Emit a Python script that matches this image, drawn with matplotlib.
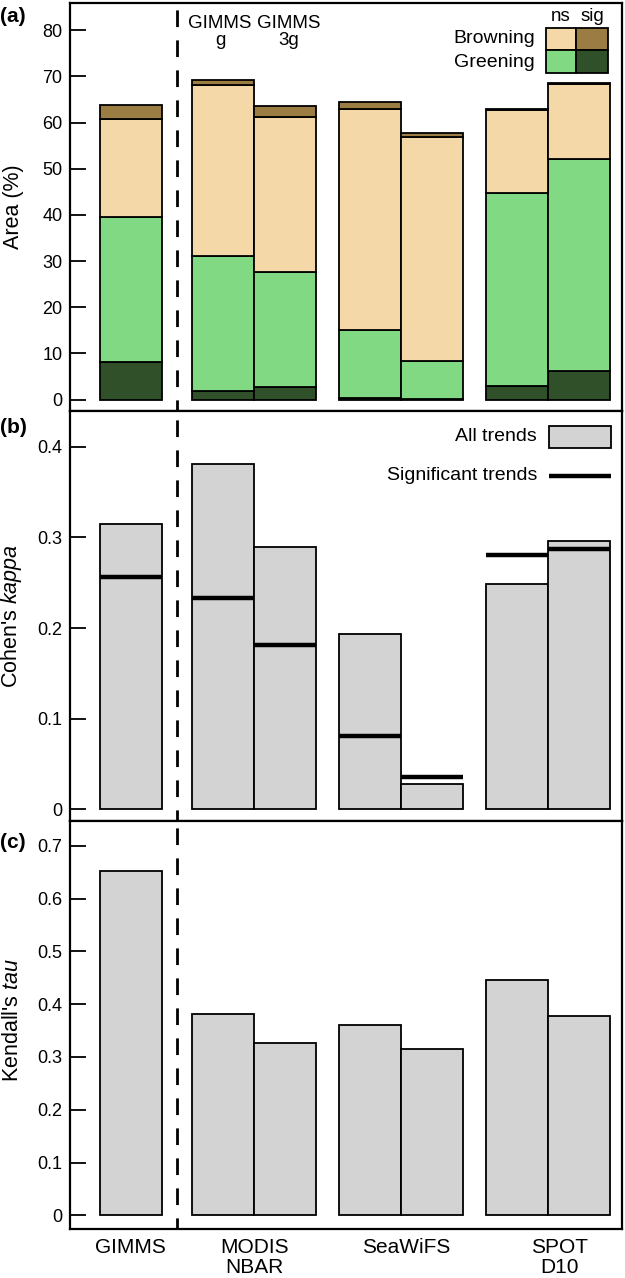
import numpy as np
import matplotlib
matplotlib.use("Agg")
import matplotlib.pyplot as plt
from matplotlib.patches import Rectangle

plt.rcParams['font.family'] = ['Liberation Sans', 'DejaVu Sans']
plt.rcParams['mathtext.fontset'] = 'custom'
plt.rcParams['mathtext.rm'] = 'Liberation Sans'
plt.rcParams['mathtext.it'] = 'Liberation Sans:italic'

# bar positions (bar width = 1), seven products
x_pos = [0.99, 2.47, 3.47, 4.835, 5.835, 7.21, 8.21]
x_lab_pos = [0.97, 2.97, 5.42, 7.90]
x_labels = ["GIMMS", "MODIS\nNBAR", "SeaWiFS", "SPOT\nD10"]

# (a) area with trends, %
sig_green = [8.2, 1.9, 2.75, 0.36, 0.2, 2.9, 6.2]
ns_green = [31.3, 29.3, 24.85, 14.64, 8.2, 41.9, 46.0]
ns_brown = [21.3, 36.9, 33.6, 47.9, 48.4, 17.9, 16.15]
sig_brown = [3.0, 1.1, 2.5, 1.5, 0.9, 0.15, 0.25]

# (b) Cohen's kappa
kappa_all = [0.3146, 0.3805, 0.2892, 0.1936, 0.0283, 0.2484, 0.2955]
kappa_sig = [0.2565, 0.2333, 0.1818, 0.0806, 0.0353, 0.2808, 0.2874]

# (c) Kendall's tau
tau = [0.653, 0.381, 0.327, 0.360, 0.316, 0.445, 0.377]

col_sig_green = "#30502a"
col_ns_green = "#82d983"
col_ns_brown = "#f5d8a8"
col_sig_brown = "#9b7d43"
col_gray = "#d3d3d3"

fig = plt.figure(figsize=(6.25, 12.78), dpi=100)
L, R = 70 / 625, 622 / 625
H = 1278
ax_a = fig.add_axes([L, 1 - 411 / H, R - L, 408 / H])
ax_b = fig.add_axes([L, 1 - 821 / H, R - L, 410 / H])
ax_c = fig.add_axes([L, 1 - 1229 / H, R - L, 408 / H])

ec = dict(edgecolor="black", linewidth=1.3)

# panel a: stacked bars
bottom = np.zeros(len(x_pos))
for vals, col in [(sig_green, col_sig_green), (ns_green, col_ns_green),
                  (ns_brown, col_ns_brown), (sig_brown, col_sig_brown)]:
    ax_a.bar(x_pos, vals, width=1.0, bottom=bottom, color=col, **ec)
    bottom += np.array(vals)

# panel b: kappa bars and significant-trend lines
ax_b.bar(x_pos, kappa_all, width=1.0, color=col_gray, **ec)
for xp, k in zip(x_pos, kappa_sig):
    ax_b.plot([xp - 0.5, xp + 0.5], [k, k], color="black", lw=3.2,
              solid_capstyle="butt")

# panel c: tau bars
ax_c.bar(x_pos, tau, width=1.0, color=col_gray, **ec)

ylims = [(-2.46, 85.9), (-0.0129, 0.4394), (-0.0258, 0.747)]
yticks = [np.arange(0, 81, 10), [0, 0.1, 0.2, 0.3, 0.4],
          [0, 0.1, 0.2, 0.3, 0.4, 0.5, 0.6, 0.7]]
ytlabels = [[str(v) for v in range(0, 81, 10)],
            ["0", "0.1", "0.2", "0.3", "0.4"],
            ["0", "0.1", "0.2", "0.3", "0.4", "0.5", "0.6", "0.7"]]
for ax, yl, yt, ytl in zip([ax_a, ax_b, ax_c], ylims, yticks, ytlabels):
    ax.set_xlim(0, 8.9)
    ax.set_ylim(*yl)
    ax.set_yticks(yt)
    ax.set_yticklabels(ytl)
    ax.set_xticks([])
    ax.tick_params(axis="y", direction="in", length=11.5, width=1.3,
                   labelsize=13, pad=5.5)
    for s in ax.spines.values():
        s.set_linewidth(1.6)
    ax.axvline(1.73, color="black", lw=2.0, linestyle=(2, (6.0, 4.8)))

# x labels under panel c
for xp, lab in zip(x_lab_pos, x_labels):
    ax_c.text(xp, -0.022, lab, ha="center", va="top", fontsize=15,
              linespacing=1.1, transform=ax_c.get_xaxis_transform())

# y labels
fig.text(13 / 625, 1 - 207 / H, "Area (%)", rotation=90, ha="center",
         va="center", fontsize=15.5)
fig.text(12 / 625, 1 - 616 / H, "Cohen's $\\mathit{kappa}$", rotation=90,
         ha="center", va="center", fontsize=15.5)
fig.text(13 / 625, 1 - 1020 / H, "Kendall's $\\mathit{tau}$", rotation=90,
         ha="center", va="center", fontsize=15.5)

# panel letters
for lab, yp in [("(a)", 17), ("(b)", 427), ("(c)", 843)]:
    fig.text(0 / 625, 1 - yp / H, lab, ha="left", va="center",
             fontsize=15, fontweight="bold")

# GIMMS annotations above MODIS bars
ax_a.text(x_pos[1] - 0.05, 0.971, "GIMMS\ng", ha="center", va="top",
          fontsize=13.5, linespacing=1.0, transform=ax_a.get_xaxis_transform())
ax_a.text(x_pos[2] + 0.05, 0.971, "GIMMS\n3g", ha="center", va="top",
          fontsize=13.5, linespacing=1.0, transform=ax_a.get_xaxis_transform())

# legend panel a
ta = ax_a.transAxes
cols = [(0.862, 0.917), (0.917, 0.975)]
rows = [(0.885, 0.939), (0.828, 0.885)]
cell_cols = [[col_ns_brown, col_sig_brown], [col_ns_green, col_sig_green]]
for ri, (y0, y1) in enumerate(rows):
    for ci, (x0, x1) in enumerate(cols):
        ax_a.add_patch(Rectangle((x0, y0), x1 - x0, y1 - y0, transform=ta,
                                 facecolor=cell_cols[ri][ci], edgecolor="black",
                                 lw=1.3, clip_on=False))
ax_a.text(0.889, 0.966, "ns", ha="center", va="center", fontsize=13.5,
          transform=ta)
ax_a.text(0.946, 0.966, "sig", ha="center", va="center", fontsize=13.5,
          transform=ta)
ax_a.text(0.842, 0.912, "Browning", ha="right", va="center", fontsize=14,
          transform=ta)
ax_a.text(0.842, 0.855, "Greening", ha="right", va="center", fontsize=14,
          transform=ta)

# legend panel b
tb = ax_b.transAxes
ax_b.add_patch(Rectangle((0.868, 0.909), 0.112, 0.055, transform=tb,
                         facecolor=col_gray, edgecolor="black", lw=1.3))
ax_b.plot([0.868, 0.980], [0.842, 0.842], color="black", lw=3.2,
          solid_capstyle="butt", transform=tb)
ax_b.text(0.846, 0.937, "All trends", ha="right", va="center", fontsize=14,
          transform=tb)
ax_b.text(0.846, 0.842, "Significant trends", ha="right", va="center",
          fontsize=14, transform=tb)

fig.savefig("out.png", dpi=100)
